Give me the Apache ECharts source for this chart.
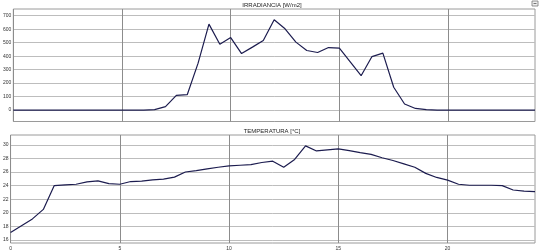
<!DOCTYPE html>
<html><head><meta charset="utf-8">
<script src="https://cdn.jsdelivr.net/npm/echarts@6/dist/echarts.min.js"></script>
<style>html,body{margin:0;padding:0;background:#fff}#c{width:541px;height:252px}</style>
</head><body><div id="c"></div>
<script>
const hours = [0,0.5,1,1.5,2,2.5,3,3.5,4,4.5,5,5.5,6,6.5,7,7.5,8,8.5,9,9.5,10,10.5,11,11.5,12,12.5,13,13.5,14,14.5,15,15.5,16,16.5,17,17.5,18,18.5,19,19.5,20,20.5,21,21.5,22,22.5,23,23.5,24];
const irradiance = [0,0,0,0,0,0,0,0,0,0,0,0,0,3,25,109,114,348,638,489,538,419,467,516,670,603,504,442,427,464,459,357,255,397,422,169,45,12,3,0,0,0,0,0,0,0,0,0,0];
const temperature = [17.1,18.1,19.1,20.5,24.0,24.1,24.2,24.55,24.7,24.3,24.2,24.6,24.65,24.85,24.95,25.25,26.0,26.2,26.45,26.7,26.9,27.0,27.1,27.4,27.6,26.7,27.85,29.85,29.1,29.25,29.4,29.15,28.85,28.6,28.1,27.7,27.2,26.7,25.8,25.2,24.8,24.2,24.05,24.05,24.05,24.0,23.35,23.2,23.1];
const irrTicks = [0,100,200,300,400,500,600,700];
const tempTicks = [16,18,20,22,24,26,28,30];
const xTicks = [0,5,10,15,20];
const titles = ['IRRADIANCIA [W/m2]','TEMPERATURA [°C]'];

const chart = echarts.init(document.getElementById('c'), null, {renderer:'canvas'});
const lineColor = '#1c1c4f';
function xAxis(idx, showLabel){
  return {type:'value', gridIndex:idx, min:0, max:24, interval:5,
    axisLine:{show:false}, axisTick:{show:false, customValues:xTicks},
    axisLabel:{show:showLabel, fontSize:5, color:'#333', margin:3, fontFamily:'Liberation Sans', customValues:xTicks},
    splitLine:{show:true, lineStyle:{color:'#8c8c8c', width:1}}};
}
function yAxis(idx, min, max, ticks){
  return {type:'value', gridIndex:idx, min:min, max:max,
    axisLine:{show:false}, axisTick:{show:false, customValues:ticks},
    axisLabel:{fontSize:5, color:'#333', margin:2, customValues:ticks, fontFamily:'Liberation Sans'},
    splitLine:{show:true, lineStyle:{color:'#bdbdbd', width:1}}};
}
chart.setOption({
  animation:false,
  title:[
    {text:titles[0], left:272, top:2, padding:0, textAlign:'center', textStyle:{fontSize:6, fontWeight:'normal', color:'#222', fontFamily:'Liberation Sans'}},
    {text:titles[1], left:272, top:128, padding:0, textAlign:'center', textStyle:{fontSize:6, fontWeight:'normal', color:'#222', fontFamily:'Liberation Sans'}}
  ],
  grid:[
    {left:10, right:6, top:9, height:112.5, show:true, borderColor:'#9a9a9a', borderWidth:1, backgroundColor:'#fff'},
    {left:10, right:6, top:135, height:108, show:true, borderColor:'#9a9a9a', borderWidth:1, backgroundColor:'#fff'}
  ],
  xAxis:[xAxis(0,false), xAxis(1,true)],
  yAxis:[yAxis(0,-85,750,irrTicks), yAxis(1,15.55,31.45,tempTicks)],
  graphic:[
    {type:'rect', shape:{x:532, y:1, width:6, height:5}, style:{fill:'#eee', stroke:'#777', lineWidth:0.8}},
    {type:'line', shape:{x1:533.5, y1:3.5, x2:536.5, y2:3.5}, style:{stroke:'#555', lineWidth:0.8}}
  ],
  series:[
    {type:'line', xAxisIndex:0, yAxisIndex:0, data:hours.map((h,i)=>[h,irradiance[i]]), symbol:'none',
      lineStyle:{color:lineColor, width:1.2}},
    {type:'line', xAxisIndex:1, yAxisIndex:1, data:hours.map((h,i)=>[h,temperature[i]]), symbol:'none',
      lineStyle:{color:lineColor, width:1.2}}
  ]
});
</script></body></html>
